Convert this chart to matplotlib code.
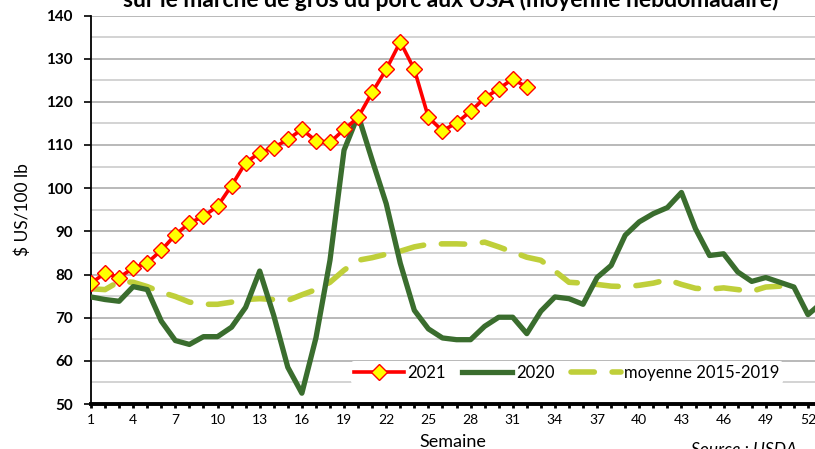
import numpy as np
import matplotlib.pyplot as plt
from matplotlib.ticker import MultipleLocator

plt.rcParams['font.family'] = ['Lato', 'DejaVu Sans']

# weekly prices, $ US/100 lb
prix_2021 = [78.0, 80.3, 79.3, 81.5, 82.7, 85.6, 89.2, 91.9, 93.5, 95.8,
             100.6, 105.9, 108.2, 109.4, 111.3, 113.6, 111.0, 110.6, 113.6, 116.4,
             122.2, 127.5, 133.9, 127.5, 116.4, 113.3, 115.1, 117.8, 120.9, 123.0,
             125.3, 123.4]
prix_2020 = [74.8, 74.2, 73.8, 77.2, 76.5, 69.2, 64.7, 63.8, 65.6, 65.6,
             67.8, 72.4, 80.8, 70.5, 58.5, 52.5, 65.3, 83.3, 108.8, 116.9,
             106.5, 96.4, 82.6, 71.7, 67.4, 65.3, 64.9, 64.9, 68.0, 70.1,
             70.1, 66.3, 71.5, 74.8, 74.4, 73.1, 79.3, 82.1, 89.1, 92.2,
             94.1, 95.5, 99.0, 90.6, 84.4, 84.8, 80.6, 78.4, 79.3, 78.2,
             77.1, 70.7, 73.5]
moyenne = [76.7, 76.5, 78.4, 78.2, 77.2, 75.9, 74.9, 73.6, 73.1, 73.1,
           73.6, 74.2, 74.4, 74.2, 74.0, 75.3, 76.5, 78.2, 81.0, 83.3,
           83.9, 84.7, 85.4, 86.4, 87.0, 87.1, 87.1, 87.0, 87.5, 86.4,
           85.2, 84.0, 83.3, 80.8, 78.2, 78.0, 77.7, 77.3, 77.2, 77.5,
           78.0, 78.8, 77.7, 76.8, 76.6, 76.9, 76.5, 76.1, 77.1, 77.3,
           76.0]

sem_2021 = np.arange(1, len(prix_2021) + 1)
sem_2020 = np.arange(1, len(prix_2020) + 1)
sem_moy = np.arange(1, len(moyenne) + 1)

fig = plt.figure(figsize=(8.15, 4.49), dpi=100)
ax = fig.add_axes([91/815, 45/449, (815-91)/815, (404-15.5)/449])

ax.plot(sem_moy, moyenne, color='#BFCF3A', linewidth=4, dashes=(4.2, 3.2),
        dash_capstyle='round', label='moyenne 2015-2019', zorder=3)
ax.plot(sem_2020, prix_2020, color='#3A6D2E', linewidth=3.8, label='2020', zorder=4)
ax.plot(sem_2021, prix_2021, color='#FF0000', linewidth=2.6, marker='D', markersize=8,
        markerfacecolor='#FFFF00', markeredgecolor='#FF0000', markeredgewidth=1, label='2021', zorder=5)

ax.set_xlim(1, 52.5)
ax.set_ylim(50, 140)
ax.set_xticks(np.arange(1, 53, 3))
ax.xaxis.set_minor_locator(MultipleLocator(1))
ax.yaxis.set_major_locator(MultipleLocator(10))
ax.yaxis.set_minor_locator(MultipleLocator(5))

ax.grid(which='major', axis='y', color='#A6A6A6', linewidth=1.1)
ax.grid(which='minor', axis='y', color='#C8C8C8', linewidth=1.1)
ax.set_axisbelow(True)

for s in ['top', 'right']:
    ax.spines[s].set_visible(False)
ax.spines['left'].set_linewidth(1.3)
ax.spines['bottom'].set_linewidth(2.8)
ax.spines['bottom'].set_zorder(6)

ax.tick_params(axis='x', which='both', direction='out', length=3, width=2, labelsize=10, pad=4)
ax.tick_params(axis='y', which='major', direction='out', length=5, width=1.2, labelsize=11, pad=8)
ax.tick_params(axis='y', which='minor', length=0)
for lab in ax.get_yticklabels():
    lab.set_fontweight('bold')

ax.set_xlabel('Semaine', fontsize=13, labelpad=6)
ax.set_ylabel('$ US/100 lb', fontsize=12.5, labelpad=11)

handles, labels = ax.get_legend_handles_labels()
leg = ax.legend(handles[::-1], labels[::-1], loc='lower left', bbox_to_anchor=(0.347, 0.03),
                ncol=3, frameon=True, fontsize=12, handlelength=3.0, columnspacing=1.0,
                handletextpad=0.2, borderpad=0.2)
leg.get_frame().set_edgecolor('none')
leg.get_frame().set_facecolor('white')
leg.get_frame().set_alpha(1)
leg.set_zorder(7)

fig.text(0.553, 1 - 7/449, 'sur le marché de gros du porc aux USA (moyenne hebdomadaire)',
         ha='center', va='baseline', fontsize=16.5, fontweight='bold')
fig.text(0.913, 7/449, 'Source : USDA', ha='center', va='top', fontsize=12.5, style='italic')

fig.savefig('out.png', dpi=100)
